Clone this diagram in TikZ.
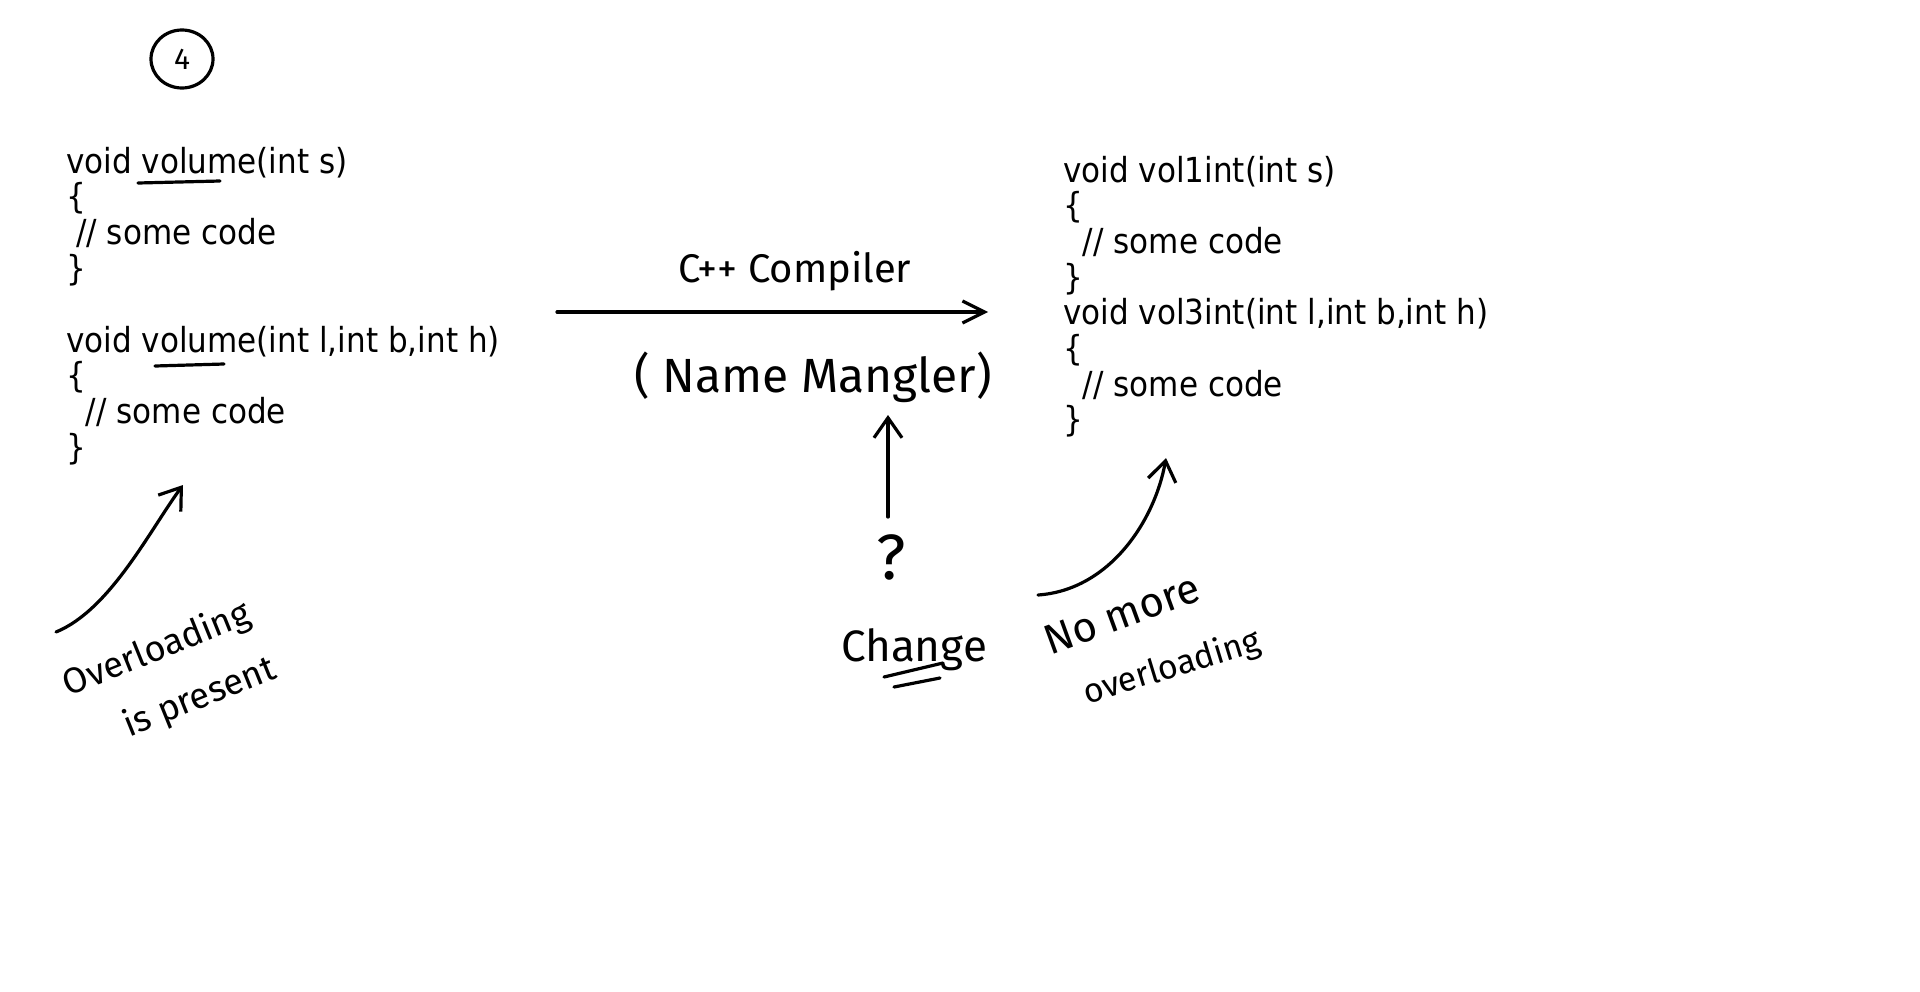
\documentclass[tikz,border=0pt]{standalone}
\usepackage{fontspec}
\newfontfamily\codefont{DejaVu Sans}[FakeStretch=0.9]
\newfontfamily\handfont{Fira Sans}
\usetikzlibrary{arrows.meta,shapes.geometric}
\begin{document}
\begin{tikzpicture}[x=1pt,y=-1pt,
  code/.style={font=\codefont\fontsize{34.5}{36}\selectfont, anchor=base west, inner sep=0pt},
  hand/.style={font=\handfont, inner sep=0pt},
  stroke/.style={line width=3.2pt, line cap=round, line join=round},
  arr/.style={stroke, -{Straight Barb[length=20pt,width=28pt]}}
]
\useasboundingbox[fill=white] (0,0) rectangle (1920,991);

% circled number
\node[draw, stroke, ellipse, minimum width=62pt, minimum height=58pt, inner sep=0pt,
      font=\handfont\fontsize{30}{30}\selectfont] (num) at (182,59) {4};

% left code
\node[code] (l1) at (66,173)   {void volume(int s)};
\node[code] (l2) at (66,208.8) {\{};
\node[code] (l3) at (66,244.6) {\ // some code};
\node[code] (l4) at (66,280.4) {\}};
\node[code] (l5) at (66,352)   {void volume(int l,int b,int h)};
\node[code] (l6) at (66,387.8) {\{};
\node[code] (l7) at (66,423.6) {\ \ // some code};
\node[code] (l8) at (66,459.4) {\}};

% right code
\node[code] (r1) at (1063,182)   {void vol1int(int s)};
\node[code] (r2) at (1063,217.7) {\{};
\node[code] (r3) at (1063,253.4) {\ \ // some code};
\node[code] (r4) at (1063,289.1) {\}};
\node[code] (r5) at (1063,324.8) {void vol3int(int l,int b,int h)};
\node[code] (r6) at (1063,360.5) {\{};
\node[code] (r7) at (1063,396.2) {\ \ // some code};
\node[code] (r8) at (1063,431.9) {\}};

% underlines
\coordinate (u1a) at (138,183); \coordinate (u1b) at (220,181);
\coordinate (u2a) at (155,366); \coordinate (u2b) at (224,364);
\draw[stroke] (u1a) -- (u1b);
\draw[stroke] (u2a) -- (u2b);

% main arrow
\coordinate (ms) at (557,312);
\coordinate (me) at (988,312);
\draw[stroke, -{Straight Barb[length=22pt,width=22pt]}] (ms) -- (me);
\node[hand, font=\handfont\fontsize{40}{40}\selectfont] (comp) at (795,271) {C++ Compiler};
\node[hand, font=\handfont\fontsize{48}{48}\selectfont] (mang) at (813,377) {( Name Mangler)};

% question arrow
\node[hand, font=\handfont\fontsize{64}{64}\selectfont] (q) at (891,557) {?};
\coordinate (qs) at (888,517);
\coordinate (qe) at (888,415);
\draw[arr] (qs) -- (qe);
\node[hand, font=\handfont\fontsize{44}{44}\selectfont] (chg) at (914,650) {Change};
\coordinate (c1a) at (884,677); \coordinate (c1b) at (943,663);
\coordinate (c2a) at (894,687); \coordinate (c2b) at (940,678);
\draw[stroke] (c1a) -- (c1b);
\draw[stroke] (c2a) -- (c2b);

% left note
\node[hand, rotate=22, font=\handfont\fontsize{36}{36}\selectfont] (ovl) at (157,650) {Overloading};
\node[hand, rotate=22, font=\handfont\fontsize{36}{36}\selectfont] (prs) at (200,698) {is present};
\coordinate (las) at (56,632);
\coordinate (lae) at (183,485);
\draw[arr] (las) .. controls (110,610) and (150,530) .. (lae);

% right note
\node[hand, rotate=20, font=\handfont\fontsize{42}{42}\selectfont] (nom) at (1122,614) {No more};
\node[hand, rotate=17, font=\handfont\fontsize{34}{34}\selectfont] (ovr) at (1172,668) {overloading};
\coordinate (ras) at (1038,595);
\coordinate (rae) at (1166,458);
\draw[arr] (ras) .. controls (1110,590) and (1155,520) .. (rae);
\end{tikzpicture}
\end{document}
